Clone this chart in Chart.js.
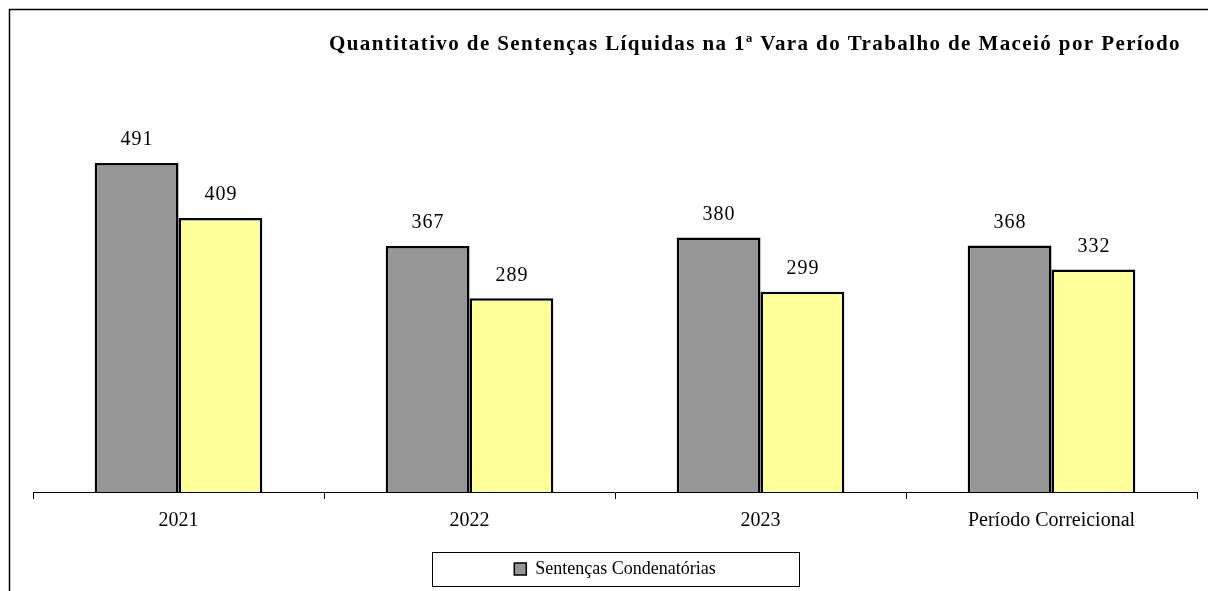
<!DOCTYPE html>
<html>
<head>
<meta charset="utf-8">
<script src="https://cdn.jsdelivr.net/npm/chart.js@4/dist/chart.umd.min.js"></script>
<style>
html,body{margin:0;padding:0;background:#fff;}
#wrap{width:1208px;height:591px;position:relative;}
</style>
</head>
<body>
<div id="wrap"><canvas id="c" width="1208" height="591"></canvas></div>
<script>
const titleText = "Quantitativo de Sentenças Líquidas na 1ª Vara do Trabalho de Maceió por Período";
const categories = ["2021", "2022", "2023", "Período Correicional"];
const condenatorias = [491, 367, 380, 368];
const liquidas = [409, 289, 299, 332];
const seriesNames = ["Sentenças Condenatórias", "Sentenças Líquidas"];

const serif = "'Liberation Serif', 'Times New Roman', serif";

const framePlugin = {
  id: 'frame',
  beforeDraw(chart) {
    const ctx = chart.ctx;
    ctx.save();
    ctx.fillStyle = '#fff';
    ctx.fillRect(0, 0, chart.width, chart.height);
    ctx.strokeStyle = '#000';
    ctx.lineWidth = 1.5;
    ctx.beginPath();
    ctx.moveTo(9.5, chart.height + 2);
    ctx.lineTo(9.5, 9.5);
    ctx.lineTo(chart.width + 2, 9.5);
    ctx.stroke();
    ctx.restore();
  },
  afterDraw(chart) {
    const ctx = chart.ctx;
    ctx.save();
    // title
    ctx.fillStyle = '#000';
    ctx.font = "bold 21px " + serif;
    ctx.letterSpacing = '1.4px';
    ctx.textAlign = 'center';
    ctx.textBaseline = 'middle';
    ctx.fillText(titleText, 755, 45);
    // value labels
    ctx.font = "20px " + serif;
    ctx.letterSpacing = '1px';
    ctx.textBaseline = 'middle';
    chart.data.datasets.forEach((ds, di) => {
      const meta = chart.getDatasetMeta(di);
      meta.data.forEach((bar, i) => {
        ctx.fillText(String(ds.data[i]), bar.x + 0.5, bar.y - 23);
      });
    });
    ctx.letterSpacing = '0px';
    // legend box
    const lg = chart.legend;
    if (lg && lg.legendHitBoxes && lg.legendHitBoxes.length) {
      const hb = lg.legendHitBoxes[0];
      const cx = hb.left + hb.width / 2;
      const cy = hb.top + hb.height / 2;
      ctx.strokeStyle = '#000';
      ctx.lineWidth = 1;
      ctx.strokeRect(Math.round(cx - 183.5) + 0.5, Math.round(cy - 17) + 0.5, 367, 34);
    }
    ctx.restore();
  }
};

new Chart(document.getElementById('c'), {
  type: 'bar',
  data: {
    labels: categories,
    datasets: [
      { label: seriesNames[0], data: condenatorias, backgroundColor: '#969696', borderColor: '#000', borderWidth: 2.5, categoryPercentage: 0.576, barPercentage: 1 },
      { label: seriesNames[1], data: liquidas, backgroundColor: '#FFFF99', borderColor: '#000', borderWidth: 2.5, categoryPercentage: 0.576, barPercentage: 1 }
    ]
  },
  options: {
    responsive: false,
    animation: false,
    events: [],
    layout: { padding: { left: 33, right: 11, top: 90, bottom: 3 } },
    plugins: {
      title: { display: false },
      tooltip: { enabled: false },
      legend: {
        display: true,
        position: 'bottom',
        labels: {
          filter: (item) => item.datasetIndex === 0,
          font: { family: serif, size: 18 },
          color: '#000',
          boxWidth: 12,
          boxHeight: 12,
          padding: 12,
          generateLabels(chart) {
            const items = Chart.defaults.plugins.legend.labels.generateLabels(chart);
            items.forEach(it => { it.lineWidth = 1.5; it.strokeStyle = '#000'; });
            return items;
          }
        }
      }
    },
    scales: {
      x: {
        offset: true,
        afterFit(scale) { scale.height += 5; },
        grid: { display: true, offset: true, drawOnChartArea: false, drawTicks: true, tickLength: 7, color: '#000', lineWidth: 1 },
        border: { display: true, color: '#000', width: 1 },
        ticks: { color: '#000', font: { family: serif, size: 20 }, padding: 10, maxRotation: 0 }
      },
      y: {
        display: false,
        min: 0,
        max: 600
      }
    }
  },
  plugins: [framePlugin]
});
</script>
</body>
</html>
